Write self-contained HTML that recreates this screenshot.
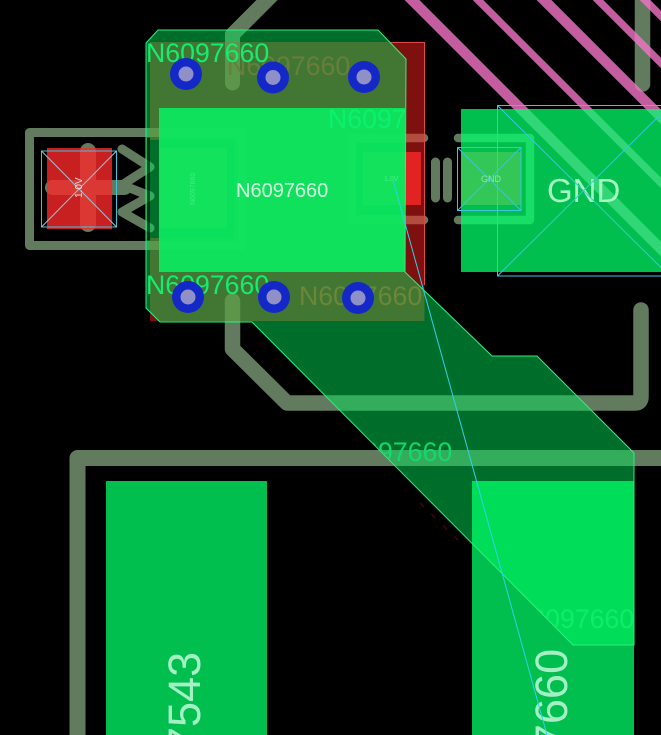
<!DOCTYPE html>
<html><head><meta charset="utf-8"><style>
html,body{margin:0;padding:0;background:#000;width:661px;height:735px;overflow:hidden}
svg{display:block}
text{font-family:"Liberation Sans",sans-serif}
</style></head><body>
<svg width="661" height="735" viewBox="0 0 661 735" xmlns="http://www.w3.org/2000/svg">
<defs>
<clipPath id="poly"><polygon points="146,43 158,30 378,30 406,59 405,272 492,356 537,356 634,453 634,645 573,645 252,322 160,322 146,308"/></clipPath>
<clipPath id="padclip"><rect x="159" y="108" width="246" height="164"/></clipPath>
</defs>
<rect width="661" height="735" fill="#000"/>

<!-- grey traces -->
<g fill="none" stroke="#627a5e" stroke-linecap="round" stroke-linejoin="round">
<path d="M77.5 745V458H680" stroke-width="16"/>
<path d="M641 310V397Q641 403 635 403H287L232.5 349V301" stroke-width="15.5"/>
<path d="M642.5 -10V84" stroke-width="15.5"/>
<path d="M277 -10L232.5 34.5V83" stroke-width="15"/>
<path d="M29.5 132.500H242.500V245.500H29.500Z" stroke-width="9"/>
<path d="M122 149L150 167L122 185L150 196L122 212L150 228" stroke-width="9"/>
<path d="M88 151V224" stroke-width="16"/>
<path d="M52.500 187.500H124.500" stroke-width="15"/>
<path d="M424 138H352V220H424" stroke-width="8.500"/>
<path d="M458 138H530V220H458" stroke-width="8.500"/>
<path d="M435.500 162V198" stroke-width="9"/>
<path d="M447.500 162V198" stroke-width="9"/>
</g>

<!-- pink diagonals -->
<g stroke="#f474c8" stroke-opacity=".8" fill="none">
<path d="M402 -10L672 260" stroke-width="10.500"/>
<path d="M468 -10L692 214" stroke-width="7.500"/>
<path d="M534 -10L692 148" stroke-width="10.500"/>
<path d="M588 -10L692 94" stroke-width="7.500"/>
<path d="M635 -10L692 47" stroke-width="7.500"/>
</g>

<!-- red layer -->
<path d="M150 42H424.500V321H150ZM150 140V238H234V140ZM356 143V215H406V143Z" fill-rule="evenodd" fill="#fe2020" fill-opacity=".5"/>
<path d="M424.500 42V285M391 42.500H424.500" stroke="#e04848" fill="none"/>
<g fill="#fa2828" fill-opacity=".8">
<rect x="47" y="148" width="65" height="81"/>
<rect x="160" y="148" width="67" height="80"/>
<rect x="363" y="152" width="58" height="53"/>
<rect x="461" y="152" width="60" height="53"/>
</g>
<text x="227" y="75" font-size="26.700" fill="#c82020">N6097660</text>
<text x="299" y="305" font-size="26.700" fill="#d03018">N6097660</text>
<path d="M420 503L458 540" stroke="#5a0808" stroke-dasharray="6 10" fill="none"/>

<!-- green pads -->
<g fill="#00ff6a" fill-opacity=".75">
<rect x="159" y="108" width="246" height="164"/>
<rect x="461" y="109" width="200" height="163"/>
<rect x="106" y="481" width="161" height="254"/>
<rect x="472" y="481" width="162" height="254"/>
</g>

<!-- green polygon -->
<polygon points="146,43 158,30 378,30 406,59 405,272 492,356 537,356 634,453 634,645 573,645 252,322 160,322 146,308" fill="#00e65a" fill-opacity=".48"/>
<rect x="147" y="138" width="3" height="102" fill="#000" fill-opacity=".55"/>

<!-- overlap brightening -->
<rect x="159" y="108" width="246" height="164" fill="#10e860" fill-opacity=".65"/>
<g clip-path="url(#poly)"><rect x="472" y="481" width="162" height="164" fill="#00e05a" fill-opacity=".85"/></g>

<polygon points="146,43 158,30 378,30 406,59 405,272 492,356 537,356 634,453 634,645 573,645 252,322 160,322 146,308" fill="none" stroke="#2cf080" stroke-width="1"/>

<!-- green labels -->
<g font-size="26.700" fill="#12ee70">
<text x="146" y="62">N6097660</text>
<text x="146" y="294">N6097660</text>
<g clip-path="url(#padclip)"><text x="328" y="128" fill="#0cf070">N6097660</text></g>
<g clip-path="url(#poly)">
<text x="329" y="461" fill="#14d86c">N6097660</text>
<text x="511" y="628" fill="#10ec6a">N6097660</text>
</g>
</g>

<!-- white labels -->
<text x="236" y="197" font-size="20" fill="#d4ffe2">N6097660</text>
<text x="547" y="202" font-size="33" fill="#a8f8c4">GND</text>
<text transform="translate(200 752) rotate(-90)" font-size="45" fill="#a4f0c4">7543</text>
<text transform="translate(567 749) rotate(-90)" font-size="45" fill="#a4f0c4">7660</text>

<!-- cyan lines -->
<g fill="none" stroke="#3cc4e0" stroke-width="1">
<rect x="41.500" y="151" width="75" height="76"/>
<path d="M41.500 151L116.500 227M116.500 151L41.500 227" stroke="#9cc0d0"/>
<rect x="457.500" y="147.500" width="63.500" height="63"/>
<path d="M457.500 147.500L521 210.500M521 147.500L457.500 210.500"/>
<rect x="497.500" y="105.500" width="172" height="170.500"/>
<path d="M497.500 105.500L669.500 276M497.500 276L669.500 105.500"/>
<path d="M393 180L547 735" stroke="#30d0e8"/>
</g>

<!-- small labels -->
<text transform="translate(82 198) rotate(-90)" font-size="10" fill="#f8e0e0">1.0V</text>
<text transform="translate(195 205) rotate(-90)" font-size="7" fill="#3cf086">N6097660</text>
<text x="384" y="181" font-size="7" fill="#44f088">1.0V</text>
<text x="481" y="182" font-size="9" fill="#90e8a8">GND</text>

<!-- vias -->
<g fill="#1428c8">
<circle cx="186" cy="74" r="16"/><circle cx="273" cy="77.500" r="16"/><circle cx="364" cy="77" r="16"/>
<circle cx="188" cy="297" r="16"/><circle cx="274" cy="297" r="16"/><circle cx="358" cy="298" r="16"/>
</g>
<g fill="#9090c8">
<circle cx="186" cy="74" r="7.500"/><circle cx="273" cy="77.500" r="7.500"/><circle cx="364" cy="77" r="7.500"/>
<circle cx="188" cy="297" r="7.500"/><circle cx="274" cy="297" r="7.500"/><circle cx="358" cy="298" r="7.500"/>
</g>
</svg>
</body></html>
